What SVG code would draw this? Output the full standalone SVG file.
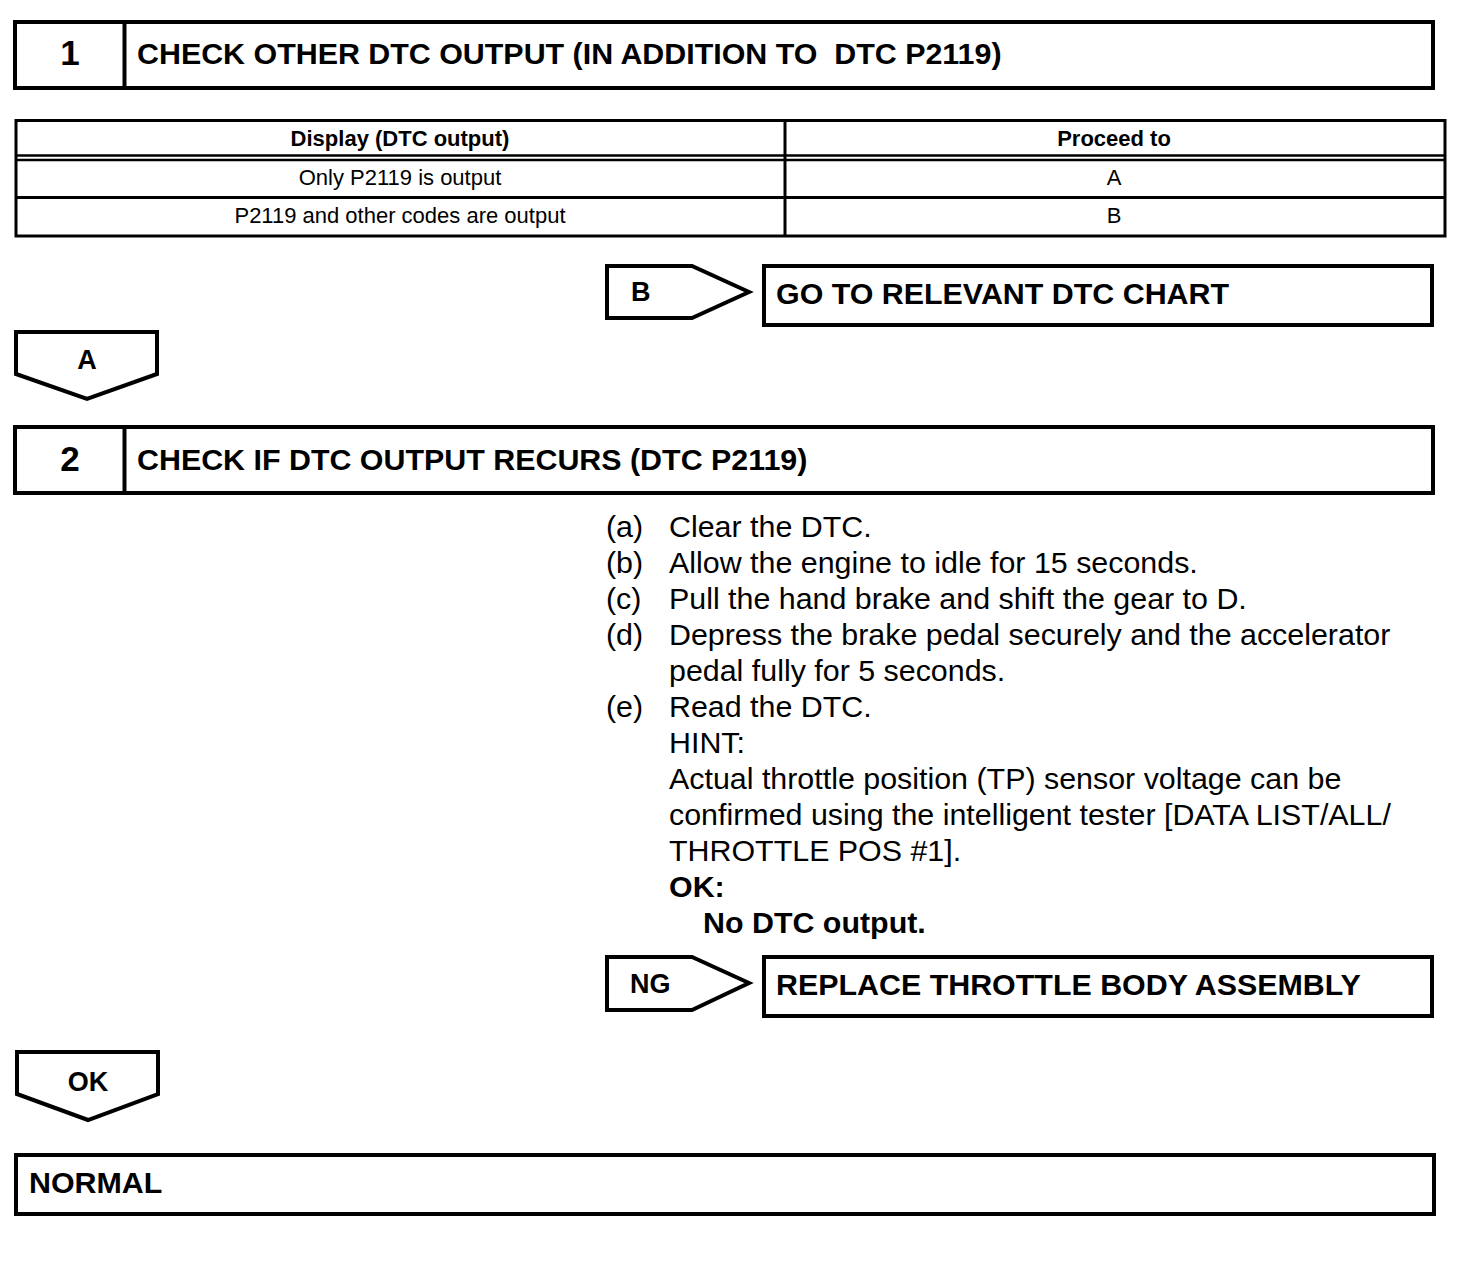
<svg xmlns="http://www.w3.org/2000/svg" width="1472" height="1270" viewBox="0 0 1472 1270">
<style>
.box{fill:#fff;stroke:#000;stroke-width:4}
.ln{stroke:#000;stroke-width:3;fill:none}
.b{font-family:"Liberation Sans",Arial,sans-serif;font-weight:bold;fill:#000}
.r{font-family:"Liberation Sans",Arial,sans-serif;fill:#000}
.t{font-size:30.4px}
.num{font-size:35px}
.tb{font-size:22px}
.lab{font-size:27px}
</style>
<rect width="1472" height="1270" fill="#fff"/>
<g id="step1">
<rect class="box" x="15" y="22" width="1418" height="66"/>
<line class="ln" x1="124.5" y1="22" x2="124.5" y2="88" style="stroke-width:4"/>
<text class="b num" x="70" y="65" text-anchor="middle">1</text>
<text class="b t" x="137" y="64" xml:space="preserve" style="white-space:pre">CHECK OTHER DTC OUTPUT (IN ADDITION TO  DTC P2119)</text>
</g>
<g id="table">
<rect x="16" y="120.5" width="1429" height="115.5" fill="#fff" stroke="#000" stroke-width="3"/>
<line class="ln" x1="16" y1="155.5" x2="1445" y2="155.5" style="stroke-width:2.5"/>
<line class="ln" x1="16" y1="160" x2="1445" y2="160" style="stroke-width:2.5"/>
<line class="ln" x1="16" y1="197.5" x2="1445" y2="197.5"/>
<line class="ln" x1="785" y1="120.5" x2="785" y2="236"/>
<text class="b tb" x="400" y="146" text-anchor="middle">Display (DTC output)</text>
<text class="b tb" x="1114" y="146" text-anchor="middle">Proceed to</text>
<text class="r tb" x="400" y="185" text-anchor="middle">Only P2119 is output</text>
<text class="r tb" x="1114" y="185" text-anchor="middle">A</text>
<text class="r tb" x="400" y="223" text-anchor="middle">P2119 and other codes are output</text>
<text class="r tb" x="1114" y="223" text-anchor="middle">B</text>
</g>
<g id="arrowB">
<polygon class="box" points="607,266 692,266 749,292 692,318 607,318"/>
<text class="b lab" x="631" y="301">B</text>
</g>
<g id="goto">
<rect class="box" x="764" y="266" width="668" height="59"/>
<text class="b t" x="776" y="304">GO TO RELEVANT DTC CHART</text>
</g>
<g id="arrowA">
<polygon class="box" points="16,332 157,332 157,374 87,399 16,374"/>
<text class="b lab" x="87" y="369" text-anchor="middle">A</text>
</g>
<g id="step2">
<rect class="box" x="15" y="427" width="1418" height="66"/>
<line class="ln" x1="124.5" y1="427" x2="124.5" y2="493" style="stroke-width:4"/>
<text class="b num" x="70" y="471" text-anchor="middle">2</text>
<text class="b t" x="137" y="470">CHECK IF DTC OUTPUT RECURS (DTC P2119)</text>
</g>
<g id="instructions">
<text class="r t" x="606" y="537">(a)</text>
<text class="r t" x="669" y="537">Clear the DTC.</text>
<text class="r t" x="606" y="573">(b)</text>
<text class="r t" x="669" y="573">Allow the engine to idle for 15 seconds.</text>
<text class="r t" x="606" y="609">(c)</text>
<text class="r t" x="669" y="609">Pull the hand brake and shift the gear to D.</text>
<text class="r t" x="606" y="645">(d)</text>
<text class="r t" x="669" y="645">Depress the brake pedal securely and the accelerator</text>
<text class="r t" x="669" y="681">pedal fully for 5 seconds.</text>
<text class="r t" x="606" y="717">(e)</text>
<text class="r t" x="669" y="717">Read the DTC.</text>
<text class="r t" x="669" y="753">HINT:</text>
<text class="r t" x="669" y="789">Actual throttle position (TP) sensor voltage can be</text>
<text class="r t" x="669" y="825">confirmed using the intelligent tester [DATA LIST/ALL/</text>
<text class="r t" x="669" y="861">THROTTLE POS #1].</text>
<text class="b t" x="669" y="897">OK:</text>
<text class="b t" x="703" y="933">No DTC output.</text>
</g>
<g id="arrowNG">
<polygon class="box" points="607,957 692,957 749,983 692,1010 607,1010"/>
<text class="b lab" x="630" y="993">NG</text>
</g>
<g id="replace">
<rect class="box" x="764" y="957" width="668" height="59"/>
<text class="b t" x="776" y="995">REPLACE THROTTLE BODY ASSEMBLY</text>
</g>
<g id="arrowOK">
<polygon class="box" points="17,1052 158,1052 158,1094 88,1120 17,1094"/>
<text class="b lab" x="88" y="1091" text-anchor="middle">OK</text>
</g>
<g id="normal">
<rect class="box" x="16" y="1155" width="1418" height="59"/>
<text class="b t" x="29" y="1193">NORMAL</text>
</g>
<g id="connectors"></g>
</svg>
